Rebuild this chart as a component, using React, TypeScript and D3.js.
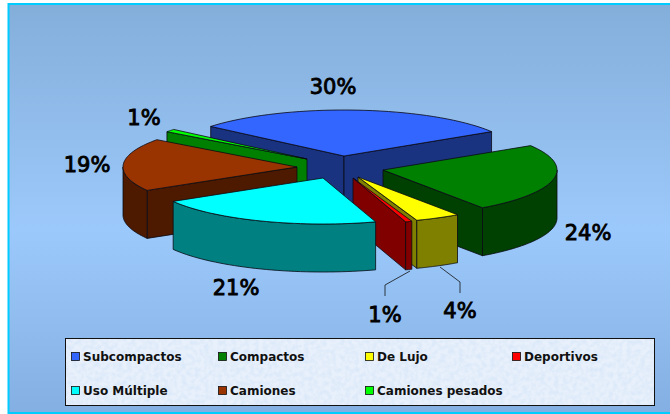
import React from "react";
import * as d3 from "d3";

const categories = ["Subcompactos", "Compactos", "De Lujo", "Deportivos", "Uso Múltiple", "Camiones", "Camiones pesados"];
const values = [30, 24.2, 4.2, 0.6, 21.4, 18.6, 1];
const topColors = ["#3366FF", "#008000", "#FFFF00", "#FF0000", "#00FFFF", "#993300", "#00FF00"];
const wallColors = ["#1A3380", "#004000", "#808000", "#800000", "#008080", "#4D1A00", "#008000"];
const percentLabels = ["30%", "24%", "4%", "1%", "21%", "19%", "1%"];

// layout
const W = 670, H = 414;
const RX = 174, RY = 46, DEPTH = 48;
const START = (-50 * Math.PI) / 180;
const apexes: [number, number][] = [[344, 156], [383, 170], [358, 177], [353, 178], [323, 178], [297, 167], [307, 159]];
const labelPos: [number, number][] = [[333, 94], [588, 240], [460, 318], [385, 322], [236, 295], [87, 172], [144, 125]];
const drawOrder = [0, 6, 5, 1, 2, 3, 4];
const legendCols = [71, 218, 365, 512];
const legendRows = [352, 386];
const leaders = [
  [[410, 271], [385, 285], [385, 296]],
  [[440, 267], [460, 282], [460, 293]],
] as [number, number][][];

const arcs = d3.pie<number>().sort(null).startAngle(START).endAngle(START + 2 * Math.PI)(values);
const line = d3.line<[number, number]>();

function slicePaths(i: number) {
  const a = arcs[i];
  const [cx, cy] = apexes[i];
  const pt = (t: number): [number, number] => [cx + RX * Math.sin(t), cy - RY * Math.cos(t)];
  const sample = (t0: number, t1: number) =>
    d3.range(0, 41).map((k) => pt(t0 + ((t1 - t0) * k) / 40));
  const t0 = a.startAngle, t1 = a.endAngle;
  const top = line([[cx, cy], ...sample(t0, t1)])! + "Z";
  const walls: string[] = [];
  const quad = (p: [number, number]) =>
    line([[cx, cy], p, [p[0], p[1] + DEPTH], [cx, cy + DEPTH]])! + "Z";
  // a cut face shows when its outward normal points down the screen
  if (Math.sin(t0) < 0) walls.push(quad(pt(t0)));
  if (Math.sin(t1) > 0) walls.push(quad(pt(t1)));
  // outer wall: front half of the ellipse only
  const lo = Math.max(t0, Math.PI / 2), hi = Math.min(t1, 1.5 * Math.PI);
  if (hi > lo) {
    const s = sample(lo, hi);
    const b = s.map(([x, y]) => [x, y + DEPTH] as [number, number]).reverse();
    walls.push(line([...s, ...b])! + "Z");
  }
  return { top, walls };
}

export default function App() {
  return (
    <svg width={W} height={H} style={{ position: "absolute", left: 0, top: 0 }}>
      <defs>
        <linearGradient id="bg" x1="0" y1="0" x2="0" y2="1">
          <stop offset="0" stopColor="#84AEDA" />
          <stop offset="0.55" stopColor="#9CC9FB" />
          <stop offset="1" stopColor="#84AFE2" />
        </linearGradient>
        <filter id="tex" x="0" y="0" width="100%" height="100%" colorInterpolationFilters="sRGB">
          <feTurbulence type="fractalNoise" baseFrequency="0.22" numOctaves="2" seed="4" result="n" />
          <feColorMatrix in="n" values="0 0 0 0 0.82  0 0 0 0 0.89  0 0 0 0 0.97  1.3 0 0 0 -0.45" result="m" />
          <feMerge>
            <feMergeNode in="SourceGraphic" />
            <feMergeNode in="m" />
          </feMerge>
        </filter>
      </defs>
      <rect x={0} y={0} width={W} height={H} fill="#fff" />
      <rect x={8.5} y={4} width={670} height={409} fill="url(#bg)" stroke="#00CCFF" strokeWidth={2} />
      {drawOrder.map((i) => {
        const { top, walls } = slicePaths(i);
        return (
          <g key={categories[i]} stroke="#0A0A14" strokeWidth={0.8} strokeLinejoin="round">
            {walls.map((d, k) => <path key={k} d={d} fill={wallColors[i]} />)}
            <path d={top} fill={topColors[i]} />
          </g>
        );
      })}
      {leaders.map((l, i) => (
        <path key={i} d={line(l)!} fill="none" stroke="#111" strokeWidth={0.8} />
      ))}
      {percentLabels.map((t, i) => (
        <text key={i} x={labelPos[i][0]} y={labelPos[i][1]} textAnchor="middle"
          fontFamily="'DejaVu Sans'" fontSize={21} fill="#000" stroke="#000" strokeWidth={0.9}>{t}</text>
      ))}
      <rect x={65.5} y={338.5} width={589} height={67} fill="#E8F0FB" filter="url(#tex)" />
      <rect x={65.5} y={338.5} width={589} height={67} fill="none" stroke="#111" strokeWidth={1} />
      {categories.map((c, i) => {
        const x = legendCols[i % 4], y = legendRows[Math.floor(i / 4)];
        return (
          <g key={c}>
            <rect x={x + 0.5} y={y + 0.5} width={8} height={8} fill={topColors[i]} stroke="#111" strokeWidth={0.8} />
            <text x={x + 12} y={y + 9} fontFamily="'DejaVu Sans'" fontWeight="bold" fontSize={12} fill="#111">{c}</text>
          </g>
        );
      })}
    </svg>
  );
}
